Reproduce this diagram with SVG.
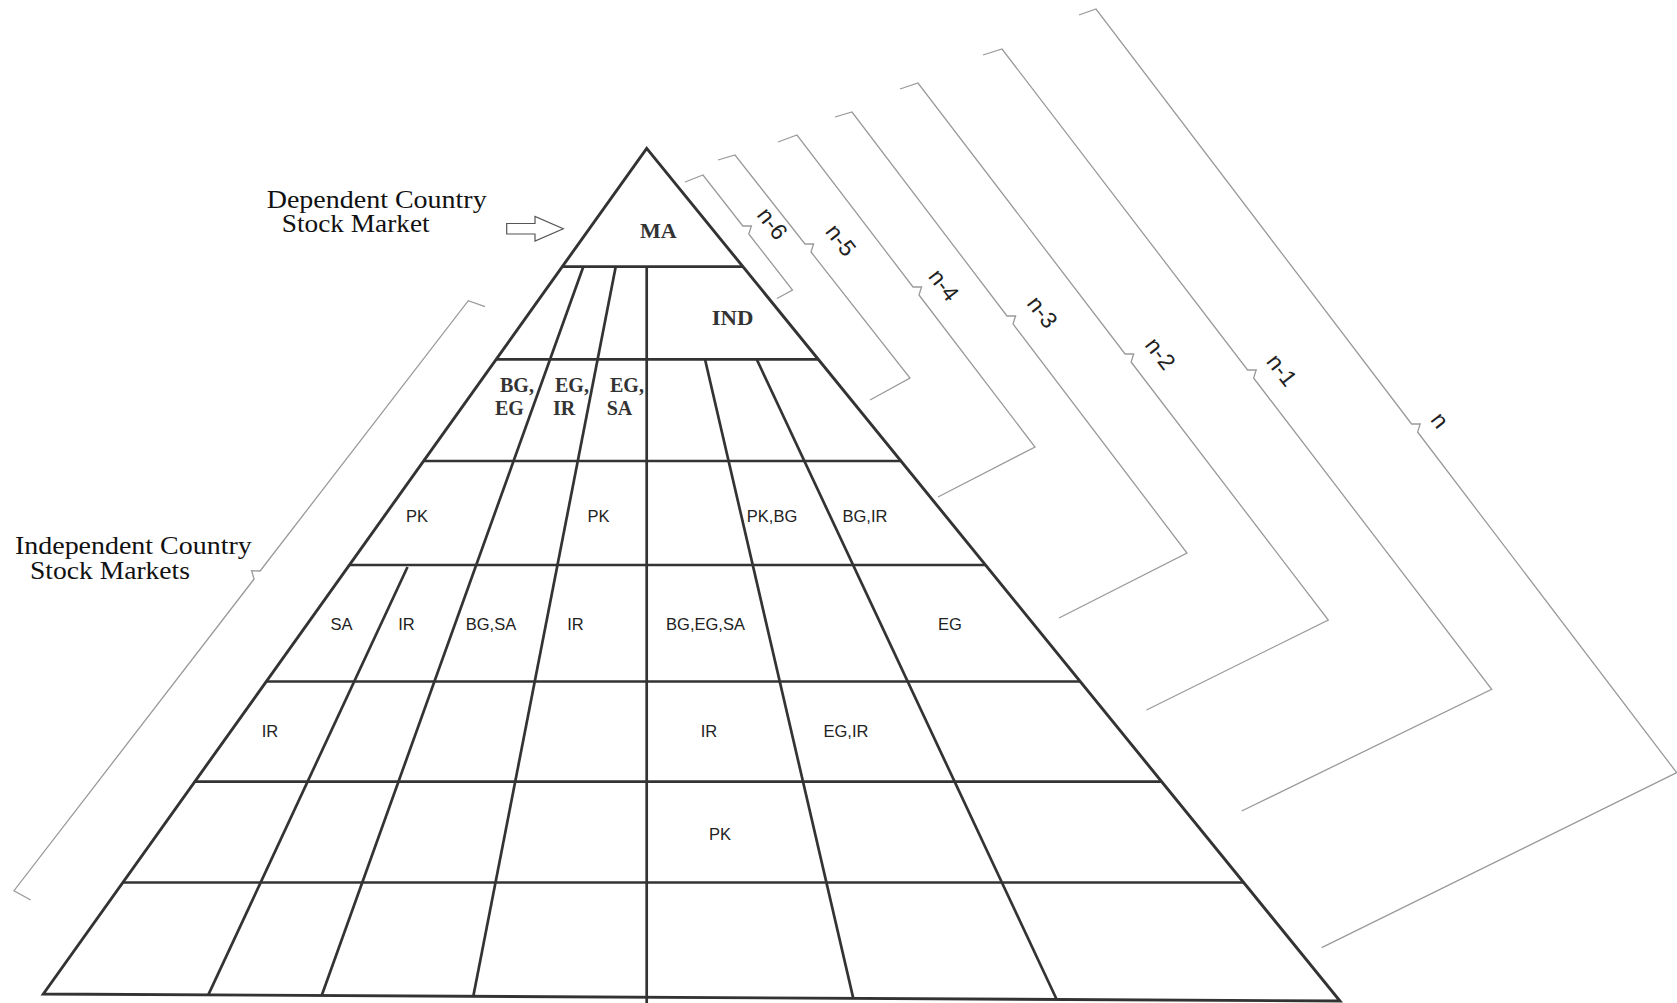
<svg xmlns="http://www.w3.org/2000/svg" width="1677" height="1003" viewBox="0 0 1677 1003">
  <style>
    .grid { stroke: #333; stroke-width: 2.7; fill: none; stroke-linecap: butt; }
    .outline { stroke: #333; stroke-width: 2.9; fill: none; stroke-linejoin: miter; }
    .brace { stroke: #9a9a9a; stroke-width: 1.3; fill: none; stroke-linejoin: miter; }
    .title { font-family: "Liberation Serif", "Times New Roman", serif; font-size: 25px; fill: #111; }
    .cellserif { font-family: "Liberation Serif", "Times New Roman", serif; font-weight: bold; font-size: 20px; fill: #333; }
    .cell { font-family: "Liberation Sans", Arial, sans-serif; font-size: 16.5px; fill: #222; text-anchor: middle; }
    .nlab { font-family: "Liberation Sans", Arial, sans-serif; font-size: 23px; fill: #222; text-anchor: middle; dominant-baseline: central; }
    .arrow { stroke: #555; stroke-width: 1.2; fill: #fff; stroke-linejoin: miter; }
  </style>
  <rect x="0" y="0" width="1677" height="1003" fill="#ffffff"/>

  <g id="pyramid">
    <polygon class="outline" points="646.7,148.3 1340,1001 43.3,994"/>
    <g id="rows">
      <line class="grid" x1="562.2" y1="266.7" x2="743" y2="266.7"/>
      <line class="grid" x1="496.2" y1="359.3" x2="818.3" y2="359.3"/>
      <line class="grid" x1="423.6" y1="461" x2="900.9" y2="461"/>
      <line class="grid" x1="349.4" y1="565" x2="985.5" y2="565"/>
      <line class="grid" x1="266.3" y1="681.5" x2="1080.2" y2="681.5"/>
      <line class="grid" x1="194.8" y1="781.7" x2="1161.7" y2="781.7"/>
      <line class="grid" x1="122.8" y1="882.5" x2="1243.7" y2="882.5"/>
    </g>
    <g id="columns">
      <line class="grid" x1="407.5" y1="567" x2="208.3" y2="994.9"/>
      <line class="grid" x1="583.3" y1="266.7" x2="321.7" y2="995.5"/>
      <line class="grid" x1="615.7" y1="266.7" x2="473.3" y2="996.3"/>
      <line class="grid" x1="646.7" y1="266.7" x2="646.7" y2="1003"/>
      <line class="grid" x1="705" y1="359.3" x2="853.3" y2="998.4"/>
      <line class="grid" x1="756.7" y1="359.3" x2="1056.7" y2="999.5"/>
    </g>
  </g>

  <g id="node-dependent-label">
    <text class="title" x="266.7" y="207.7" textLength="220" lengthAdjust="spacingAndGlyphs">Dependent Country</text>
    <text class="title" x="281.7" y="231.7" textLength="148" lengthAdjust="spacingAndGlyphs">Stock Market</text>
    <polygon class="arrow" points="506.7,223.5 535,223.5 535,216.5 563.3,228.8 535,241 535,234 506.7,234"/>
  </g>

  <g id="node-independent-label">
    <text class="title" x="15" y="554" textLength="236.7" lengthAdjust="spacingAndGlyphs">Independent Country</text>
    <text class="title" x="30" y="579.3" textLength="160" lengthAdjust="spacingAndGlyphs">Stock Markets</text>
  </g>

  <g id="node-top-cells">
    <text class="cellserif" x="640" y="238.3" textLength="36.7" lengthAdjust="spacingAndGlyphs">MA</text>
    <text class="cellserif" x="711.7" y="325" textLength="41.7" lengthAdjust="spacingAndGlyphs">IND</text>
    <text class="cellserif" x="500" y="391.7">BG,</text>
    <text class="cellserif" x="495" y="415">EG</text>
    <text class="cellserif" x="555" y="391.7">EG,</text>
    <text class="cellserif" x="553" y="415">IR</text>
    <text class="cellserif" x="610" y="391.7">EG,</text>
    <text class="cellserif" x="606.7" y="415">SA</text>
  </g>

  <g id="node-cells">
    <text class="cell" x="417" y="521.5">PK</text>
    <text class="cell" x="598.5" y="521.5">PK</text>
    <text class="cell" x="772" y="521.5">PK,BG</text>
    <text class="cell" x="865" y="521.5">BG,IR</text>
    <text class="cell" x="341.5" y="630">SA</text>
    <text class="cell" x="406.5" y="630">IR</text>
    <text class="cell" x="491" y="630">BG,SA</text>
    <text class="cell" x="575.5" y="630">IR</text>
    <text class="cell" x="705.5" y="630">BG,EG,SA</text>
    <text class="cell" x="950" y="630">EG</text>
    <text class="cell" x="270" y="736.7">IR</text>
    <text class="cell" x="709" y="736.7">IR</text>
    <text class="cell" x="846" y="736.7">EG,IR</text>
    <text class="cell" x="720" y="840">PK</text>
  </g>

  <g id="connectors">
    <g id="brace-left">
      <path class="brace" d="M485,306.7 L468.3,300.7 L260.1,571 L251.6,570.7 L254.1,579 L14,890.7 L30.7,900"/>
    </g>
    <g id="brace-n6">
      <path class="brace" d="M685,182 L703,175 L742.8,226 L751.4,225.8 L748.8,234 L792.5,290 L777,298.5"/>
      <text class="nlab" transform="rotate(52 772.5 223.5)" x="772.5" y="223.5">n-6</text>
    </g>
    <g id="brace-n5">
      <path class="brace" d="M718,160 L735,155 L805,244 L813.6,243.8 L811,252 L910,378 L870,400"/>
      <text class="nlab" transform="rotate(52 841 240)" x="841" y="240">n-5</text>
    </g>
    <g id="brace-n4">
      <path class="brace" d="M778,142 L797,135 L913,287 L921.6,286.8 L919,295 L1035,447 L938,497"/>
      <text class="nlab" transform="rotate(52 944 285)" x="944" y="285">n-4</text>
    </g>
    <g id="brace-n3">
      <path class="brace" d="M835,117 L852,112 L1007,316 L1015.6,315.8 L1013,324 L1187,553 L1059,618"/>
      <text class="nlab" transform="rotate(52 1042.5 312)" x="1042.5" y="312">n-3</text>
    </g>
    <g id="brace-n2">
      <path class="brace" d="M900,89 L918,83 L1125.1,354 L1133.7,353.8 L1131.1,362 L1328.3,620 L1146.5,710"/>
      <text class="nlab" transform="rotate(52 1160.5 353.5)" x="1160.5" y="353.5">n-2</text>
    </g>
    <g id="brace-n1">
      <path class="brace" d="M983,55 L1002,49 L1247.6,370 L1256.2,369.8 L1253.6,378 L1491.7,689.3 L1241.7,811"/>
      <text class="nlab" transform="rotate(52 1282 370)" x="1282" y="370">n-1</text>
    </g>
    <g id="brace-n">
      <path class="brace" d="M1079,15 L1096,9 L1411.6,424 L1420.2,423.8 L1417.6,432 L1676.7,772.7 L1321.7,947.7"/>
      <text class="nlab" transform="rotate(52 1440 420)" x="1440" y="420">n</text>
    </g>
  </g>
</svg>
